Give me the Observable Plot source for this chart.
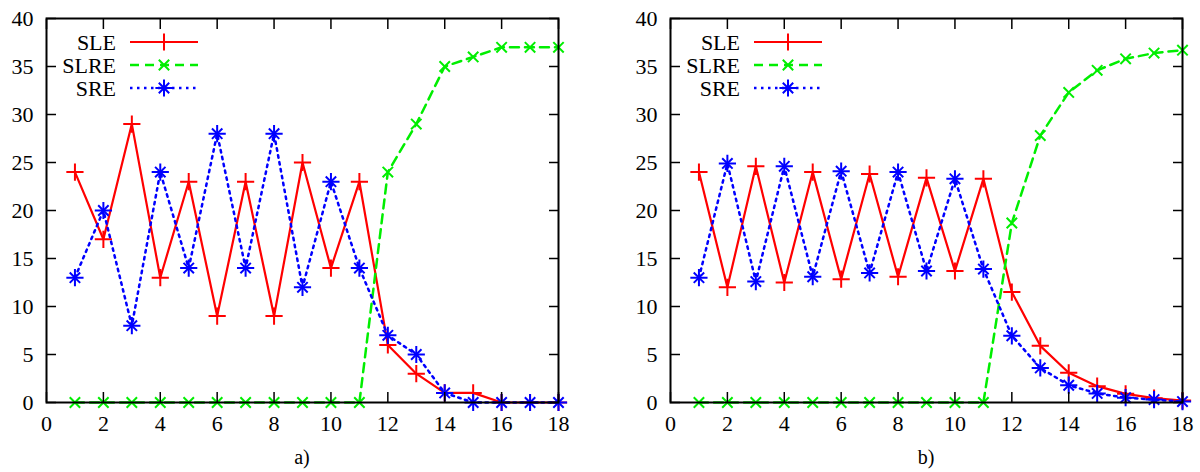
<!DOCTYPE html>
<html><head><meta charset="utf-8">
<script src="https://cdn.jsdelivr.net/npm/d3@7"></script>
<script src="https://cdn.jsdelivr.net/npm/@observablehq/plot@0.6"></script>
</head><body style="margin:0;background:#fff;font-family:'Liberation Serif',serif">
<div id="wrap" style="position:relative;width:1200px;height:472px;background:#fff;font-family:'Liberation Serif',serif"></div>
<script>
const steps = [1,2,3,4,5,6,7,8,9,10,11,12,13,14,15,16,17,18];
const seriesNames = ["SLE","SLRE","SRE"];
const seriesColors = ["#ff0000","#00ee00","#0000ff"];
const xTicks = [0,2,4,6,8,10,12,14,16,18];
const yTicks = [0,5,10,15,20,25,30,35,40];
const panelLabels = ["a)","b)"];

// panel a)
const aSLE  = [24,17,29,13,23,9,23,9,25,14,23,6,3,1,1,0,0,0];
const aSLRE = [0,0,0,0,0,0,0,0,0,0,0,24,29,35,36,37,37,37];
const aSRE  = [13,20,8,24,14,28,14,28,12,23,14,7,5,1,0,0,0,0];
// panel b)
const bSLE  = [24,12,24.6,12.5,24,12.85,23.8,13.1,23.4,13.7,23.3,11.5,5.9,3.1,1.7,0.9,0.45,0.2];
const bSLRE = [0,0,0,0,0,0,0,0,0,0,0,18.7,27.8,32.3,34.6,35.8,36.4,36.7];
const bSRE  = [13,24.9,12.6,24.6,13.1,24.1,13.5,24,13.7,23.3,13.9,6.95,3.6,1.8,0.95,0.5,0.3,0.1];

const FONT = "'Liberation Serif', serif";
const styles = [
  {dash:null, width:2.2, marks:["plus"]},
  {dash:"9,6", width:2.5, marks:["times"]},
  {dash:"2.5,4.5", width:2.5, marks:["plus","times"]}
];
const R = {plus:5.6, times:4.8};

function panel(series, ml, mr) {
  const marks = [];
  series.forEach((vals, si) => {
    const rows = steps.map((s,i)=>({x:s, y:vals[i]}));
    const st = styles[si];
    marks.push(Plot.line(rows, {x:"x", y:"y", stroke:seriesColors[si], strokeWidth:st.width, strokeDasharray:st.dash, strokeLinejoin:"miter"}));
    st.marks.forEach(m => marks.push(Plot.dot(rows, {x:"x", y:"y", symbol:m, r:R[m], stroke:seriesColors[si], strokeWidth:2})));
  });
  marks.push(Plot.frame({stroke:"black", strokeWidth:2}));
  marks.push(Plot.axisX({anchor:"bottom", ticks:xTicks, tickSize:0, tickPadding:13, label:null, tickFormat:d=>String(d)}));
  marks.push(Plot.axisX({anchor:"bottom", ticks:xTicks, tickSize:-10, label:null, tickFormat:()=>"", strokeWidth:1.5}));
  marks.push(Plot.axisX({anchor:"top", ticks:xTicks, tickSize:-10, label:null, tickFormat:()=>"", strokeWidth:1.5}));
  marks.push(Plot.axisY({anchor:"left", ticks:yTicks, tickSize:0, tickPadding:13, label:null, tickFormat:d=>String(d)}));
  marks.push(Plot.axisY({anchor:"left", ticks:yTicks, tickSize:-10, label:null, tickFormat:()=>"", strokeWidth:1.5}));
  marks.push(Plot.axisY({anchor:"right", ticks:yTicks, tickSize:-10, label:null, tickFormat:()=>"", strokeWidth:1.5}));
  return Plot.plot({
    width:600, height:432, marginLeft:ml, marginRight:mr, marginTop:18, marginBottom:30,
    style:{fontFamily:FONT, fontSize:"22px", color:"black", background:"white", overflow:"visible"},
    x:{domain:[0,18]}, y:{domain:[0,40]},
    marks
  });
}

function legend(svgNode, ml) {
  const svg = d3.select(svgNode);
  const g = svg.append("g").style("font-family",FONT).style("font-size","22px");
  seriesNames.forEach((name, si) => {
    const y = 42 + si*23;
    const st = styles[si];
    g.append("text").attr("x", ml+70).attr("y", y).attr("dy","0.35em").attr("text-anchor","end").attr("fill","black").style("font-family",FONT).text(name);
    g.append("line").attr("x1", ml+84).attr("x2", ml+152).attr("y1", y).attr("y2", y)
      .attr("stroke", seriesColors[si]).attr("stroke-width", st.width).attr("stroke-dasharray", st.dash);
    st.marks.forEach(m => {
      const type = m === "plus" ? d3.symbolPlus : d3.symbolTimes;
      g.append("path").attr("transform", `translate(${ml+118},${y})`)
        .attr("d", d3.symbol(type, Math.PI*R[m]*R[m])())
        .attr("fill","none").attr("stroke", seriesColors[si]).attr("stroke-width",2);
    });
  });
}

const wrap = document.getElementById("wrap");
const configs = [
  {series:[aSLE,aSLRE,aSRE], ml:46, mr:42, left:0, cap:302},
  {series:[bSLE,bSLRE,bSRE], ml:70, mr:18, left:600, cap:926}
];
configs.forEach((c, i) => {
  const chart = panel(c.series, c.ml, c.mr);
  const div = document.createElement("div");
  div.style.position = "absolute";
  div.style.top = "0px";
  div.style.left = c.left + "px";
  div.appendChild(chart);
  wrap.appendChild(div);
  const svgNode = chart.tagName.toLowerCase() === "svg" ? chart : chart.querySelector("svg");
  d3.select(svgNode).selectAll("text").style("font-family", FONT);
  legend(svgNode, c.ml);
  const cap = document.createElement("div");
  cap.style.cssText = `position:absolute;top:446px;left:${c.cap}px;transform:translateX(-50%);font-size:20px;color:#000;font-family:${FONT}`;
  cap.textContent = panelLabels[i];
  wrap.appendChild(cap);
});
</script></body></html>
